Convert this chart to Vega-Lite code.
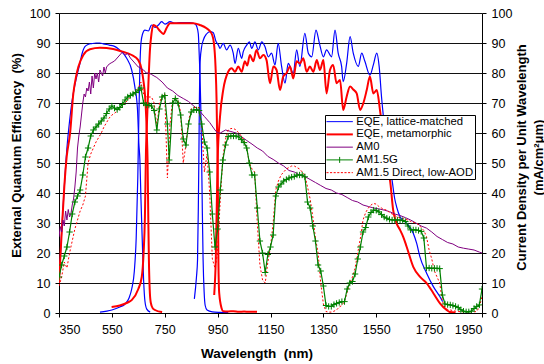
{
  "$schema": "https://vega.github.io/schema/vega-lite/v6.json",
  "width": 423,
  "height": 300,
  "autosize": "none",
  "padding": {"left": 59, "top": 13, "right": 62, "bottom": 51},
  "background": "white",
  "config": {
    "font": "Liberation Sans",
    "view": {"stroke": null},
    "axis": {
      "domainColor": "black", "tickColor": "black", "labelColor": "black", "titleColor": "black",
      "labelFont": "Liberation Sans", "titleFont": "Liberation Sans",
      "labelFontSize": 12.5, "titleFontSize": 13, "titleFontWeight": "bold",
      "tickSize": 4, "domainWidth": 1, "tickWidth": 1
    }
  },
  "datasets": {
    "eqe": [
      {"s":"L","g":"Lt","x":350,"y":10},{"s":"L","g":"Lt","x":360,"y":27},{"s":"L","g":"Lt","x":370,"y":42},{"s":"L","g":"Lt","x":380,"y":55},{"s":"L","g":"Lt","x":390,"y":64},{"s":"L","g":"Lt","x":400,"y":71},{"s":"L","g":"Lt","x":410,"y":76},{"s":"L","g":"Lt","x":420,"y":80},{"s":"L","g":"Lt","x":430,"y":83.5},{"s":"L","g":"Lt","x":436,"y":86},{"s":"L","g":"Lt","x":448,"y":88.8},{"s":"L","g":"Lt","x":460,"y":89.5},{"s":"L","g":"Lt","x":474,"y":89.8},{"s":"L","g":"Lt","x":490,"y":90},{"s":"L","g":"Lt","x":505,"y":90},{"s":"L","g":"Lt","x":518,"y":89.7},{"s":"L","g":"Lt","x":540,"y":89.3},{"s":"L","g":"Lt","x":562,"y":88.8},{"s":"L","g":"Lt","x":575,"y":88},{"s":"L","g":"Lt","x":587,"y":87.1},{"s":"L","g":"Lt","x":606,"y":84.9},{"s":"L","g":"Lt","x":625,"y":81},{"s":"L","g":"Lt","x":637,"y":75.4},{"s":"L","g":"Lt","x":647,"y":67.7},{"s":"L","g":"Lt","x":652,"y":56.6},{"s":"L","g":"Lt","x":656,"y":51},{"s":"L","g":"Lt","x":660,"y":38},{"s":"L","g":"Lt","x":665,"y":24},{"s":"L","g":"Lt","x":670,"y":11},{"s":"L","g":"Lt","x":675,"y":4},{"s":"L","g":"Lt","x":682,"y":1.3},{"s":"L","g":"Lt","x":695,"y":0.3},
      {"s":"L","g":"Lm","x":505,"y":0.3},{"s":"L","g":"Lm","x":550,"y":1},{"s":"L","g":"Lm","x":580,"y":2},{"s":"L","g":"Lm","x":600,"y":3},{"s":"L","g":"Lm","x":615,"y":5},{"s":"L","g":"Lm","x":625,"y":8},{"s":"L","g":"Lm","x":635,"y":14},{"s":"L","g":"Lm","x":642,"y":25},{"s":"L","g":"Lm","x":648,"y":45},{"s":"L","g":"Lm","x":652,"y":65},{"s":"L","g":"Lm","x":656,"y":82},{"s":"L","g":"Lm","x":660,"y":90},{"s":"L","g":"Lm","x":666,"y":93},{"s":"L","g":"Lm","x":675,"y":94.3},{"s":"L","g":"Lm","x":688,"y":94},{"s":"L","g":"Lm","x":700,"y":96},{"s":"L","g":"Lm","x":713,"y":95.2},{"s":"L","g":"Lm","x":726,"y":96},{"s":"L","g":"Lm","x":738,"y":97.1},{"s":"L","g":"Lm","x":751,"y":96.3},{"s":"L","g":"Lm","x":770,"y":97.1},{"s":"L","g":"Lm","x":790,"y":96.6},{"s":"L","g":"Lm","x":808,"y":96.8},{"s":"L","g":"Lm","x":845,"y":96.8},{"s":"L","g":"Lm","x":865,"y":96.3},{"s":"L","g":"Lm","x":871,"y":95.5},{"s":"L","g":"Lm","x":877,"y":93},{"s":"L","g":"Lm","x":880,"y":87},{"s":"L","g":"Lm","x":883,"y":80},{"s":"L","g":"Lm","x":886,"y":70},{"s":"L","g":"Lm","x":889,"y":55},{"s":"L","g":"Lm","x":892,"y":35},{"s":"L","g":"Lm","x":895,"y":18},{"s":"L","g":"Lm","x":899,"y":7},{"s":"L","g":"Lm","x":903,"y":2.5},{"s":"L","g":"Lm","x":910,"y":1},{"s":"L","g":"Lm","x":930,"y":0.4},{"s":"L","g":"Lm","x":960,"y":0.2},{"s":"L","g":"Lm","x":990,"y":0.1},
      {"s":"L","g":"Lb","x":862,"y":4.7},{"s":"L","g":"Lb","x":870,"y":12},{"s":"L","g":"Lb","x":874,"y":17.7},{"s":"L","g":"Lb","x":877,"y":35},{"s":"L","g":"Lb","x":879,"y":51},{"s":"L","g":"Lb","x":881,"y":70},{"s":"L","g":"Lb","x":884,"y":84},{"s":"L","g":"Lb","x":890,"y":89},{"s":"L","g":"Lb","x":896,"y":91},{"s":"L","g":"Lb","x":908,"y":93},{"s":"L","g":"Lb","x":921,"y":93.8},{"s":"L","g":"Lb","x":933,"y":93.5},{"s":"L","g":"Lb","x":944,"y":90.5},{"s":"L","g":"Lb","x":953,"y":89.3},{"s":"L","g":"Lb","x":959,"y":88.2},{"s":"L","g":"Lb","x":971,"y":89.9},{"s":"L","g":"Lb","x":984,"y":87.7},{"s":"L","g":"Lb","x":997,"y":89.3},{"s":"L","g":"Lb","x":1009,"y":86.6},{"s":"L","g":"Lb","x":1016,"y":83.2},{"s":"L","g":"Lb","x":1028,"y":88.2},{"s":"L","g":"Lb","x":1041,"y":84.9},{"s":"L","g":"Lb","x":1047,"y":87.1},{"s":"L","g":"Lb","x":1060,"y":89.3},{"s":"L","g":"Lb","x":1070,"y":90.4},{"s":"L","g":"Lb","x":1079,"y":88.2},{"s":"L","g":"Lb","x":1091,"y":90.4},{"s":"L","g":"Lb","x":1104,"y":87.7},{"s":"L","g":"Lb","x":1117,"y":90.4},{"s":"L","g":"Lb","x":1129,"y":88.8},{"s":"L","g":"Lb","x":1142,"y":85.4},{"s":"L","g":"Lb","x":1154,"y":86.6},{"s":"L","g":"Lb","x":1167,"y":82.7},{"s":"L","g":"Lb","x":1179,"y":89.9},{"s":"L","g":"Lb","x":1192,"y":82.2},{"s":"L","g":"Lb","x":1205,"y":76.6},{"s":"L","g":"Lb","x":1217,"y":83.2},{"s":"L","g":"Lb","x":1236,"y":80},{"s":"L","g":"Lb","x":1249,"y":87.7},{"s":"L","g":"Lb","x":1261,"y":82.2},{"s":"L","g":"Lb","x":1280,"y":93.2},{"s":"L","g":"Lb","x":1293,"y":86.6},{"s":"L","g":"Lb","x":1306,"y":85.4},{"s":"L","g":"Lb","x":1322,"y":94.3},{"s":"L","g":"Lb","x":1335,"y":89.9},{"s":"L","g":"Lb","x":1350,"y":85.4},{"s":"L","g":"Lb","x":1362,"y":87.7},{"s":"L","g":"Lb","x":1381,"y":85.4},{"s":"L","g":"Lb","x":1394,"y":94.3},{"s":"L","g":"Lb","x":1406,"y":86.6},{"s":"L","g":"Lb","x":1419,"y":82.2},{"s":"L","g":"Lb","x":1425,"y":77.1},{"s":"L","g":"Lb","x":1438,"y":83.2},{"s":"L","g":"Lb","x":1451,"y":92.1},{"s":"L","g":"Lb","x":1463,"y":86.6},{"s":"L","g":"Lb","x":1482,"y":82.2},{"s":"L","g":"Lb","x":1495,"y":86.6},{"s":"L","g":"Lb","x":1507,"y":83.9},{"s":"L","g":"Lb","x":1526,"y":79.3},{"s":"L","g":"Lb","x":1539,"y":82.7},{"s":"L","g":"Lb","x":1552,"y":86.6},{"s":"L","g":"Lb","x":1561,"y":82.2},{"s":"L","g":"Lb","x":1570,"y":72},{"s":"L","g":"Lb","x":1580,"y":63},{"s":"L","g":"Lb","x":1590,"y":55},{"s":"L","g":"Lb","x":1600,"y":49},{"s":"L","g":"Lb","x":1608,"y":45.4},{"s":"L","g":"Lb","x":1620,"y":38},{"s":"L","g":"Lb","x":1627,"y":35.4},{"s":"L","g":"Lb","x":1640,"y":32.1},{"s":"L","g":"Lb","x":1665,"y":29.9},{"s":"L","g":"Lb","x":1690,"y":26.6},{"s":"L","g":"Lb","x":1703,"y":23.2},{"s":"L","g":"Lb","x":1715,"y":18.8},{"s":"L","g":"Lb","x":1741,"y":13.2},{"s":"L","g":"Lb","x":1766,"y":8.8},{"s":"L","g":"Lb","x":1791,"y":5.4},{"s":"L","g":"Lb","x":1801,"y":3.8},
      {"s":"M","g":"Mt","x":350,"y":10},{"s":"M","g":"Mt","x":360,"y":26.6},{"s":"M","g":"Mt","x":370,"y":42},{"s":"M","g":"Mt","x":379,"y":52},{"s":"M","g":"Mt","x":392,"y":60},{"s":"M","g":"Mt","x":404,"y":73},{"s":"M","g":"Mt","x":415,"y":79},{"s":"M","g":"Mt","x":423,"y":82},{"s":"M","g":"Mt","x":442,"y":86},{"s":"M","g":"Mt","x":467,"y":87.9},{"s":"M","g":"Mt","x":505,"y":88.4},{"s":"M","g":"Mt","x":555,"y":88},{"s":"M","g":"Mt","x":587,"y":87.2},{"s":"M","g":"Mt","x":625,"y":86},{"s":"M","g":"Mt","x":650,"y":84.3},{"s":"M","g":"Mt","x":663,"y":81},{"s":"M","g":"Mt","x":670,"y":77},{"s":"M","g":"Mt","x":675,"y":73},{"s":"M","g":"Mt","x":680,"y":65},{"s":"M","g":"Mt","x":682,"y":60},{"s":"M","g":"Mt","x":685,"y":51},{"s":"M","g":"Mt","x":688,"y":30},{"s":"M","g":"Mt","x":690,"y":18},{"s":"M","g":"Mt","x":693,"y":8},{"s":"M","g":"Mt","x":697,"y":3.5},{"s":"M","g":"Mt","x":705,"y":1.5},{"s":"M","g":"Mt","x":713,"y":1},{"s":"M","g":"Mt","x":740,"y":0.3},
      {"s":"M","g":"Mm","x":549,"y":2},{"s":"M","g":"Mm","x":580,"y":2.5},{"s":"M","g":"Mm","x":610,"y":3.5},{"s":"M","g":"Mm","x":625,"y":4.3},{"s":"M","g":"Mm","x":650,"y":8},{"s":"M","g":"Mm","x":663,"y":12},{"s":"M","g":"Mm","x":670,"y":20},{"s":"M","g":"Mm","x":675,"y":32},{"s":"M","g":"Mm","x":679,"y":54},{"s":"M","g":"Mm","x":683,"y":64},{"s":"M","g":"Mm","x":688,"y":76},{"s":"M","g":"Mm","x":694,"y":87.7},{"s":"M","g":"Mm","x":700,"y":93.2},{"s":"M","g":"Mm","x":707,"y":96},{"s":"M","g":"Mm","x":719,"y":95.4},{"s":"M","g":"Mm","x":732,"y":94},{"s":"M","g":"Mm","x":745,"y":93},{"s":"M","g":"Mm","x":757,"y":95},{"s":"M","g":"Mm","x":770,"y":96.6},{"s":"M","g":"Mm","x":795,"y":96.6},{"s":"M","g":"Mm","x":820,"y":96.6},{"s":"M","g":"Mm","x":858,"y":96.6},{"s":"M","g":"Mm","x":883,"y":96},{"s":"M","g":"Mm","x":908,"y":94.9},{"s":"M","g":"Mm","x":927,"y":93.2},{"s":"M","g":"Mm","x":936,"y":89.9},{"s":"M","g":"Mm","x":942,"y":82.2},{"s":"M","g":"Mm","x":946,"y":71},{"s":"M","g":"Mm","x":948,"y":60},{"s":"M","g":"Mm","x":950,"y":51},{"s":"M","g":"Mm","x":951.5,"y":35},{"s":"M","g":"Mm","x":953,"y":17},{"s":"M","g":"Mm","x":956,"y":6.6},{"s":"M","g":"Mm","x":965,"y":1.6},{"s":"M","g":"Mm","x":971,"y":0.6},{"s":"M","g":"Mm","x":990,"y":0.5},{"s":"M","g":"Mm","x":1010,"y":0.6},{"s":"M","g":"Mm","x":1030,"y":0.4},{"s":"M","g":"Mm","x":1050,"y":0.5},{"s":"M","g":"Mm","x":1070,"y":0.4},{"s":"M","g":"Mm","x":1099,"y":0.4},
      {"s":"M","g":"Mb","x":937,"y":6},{"s":"M","g":"Mb","x":943,"y":17.7},{"s":"M","g":"Mb","x":950,"y":51},{"s":"M","g":"Mb","x":959,"y":65.4},{"s":"M","g":"Mb","x":971,"y":74.3},{"s":"M","g":"Mb","x":990,"y":80.4},{"s":"M","g":"Mb","x":1003,"y":81.6},{"s":"M","g":"Mb","x":1016,"y":80.4},{"s":"M","g":"Mb","x":1028,"y":82.2},{"s":"M","g":"Mb","x":1041,"y":80.4},{"s":"M","g":"Mb","x":1053,"y":83.9},{"s":"M","g":"Mb","x":1062,"y":82.5},{"s":"M","g":"Mb","x":1072,"y":86},{"s":"M","g":"Mb","x":1085,"y":83.9},{"s":"M","g":"Mb","x":1097,"y":87.7},{"s":"M","g":"Mb","x":1110,"y":84.9},{"s":"M","g":"Mb","x":1123,"y":86},{"s":"M","g":"Mb","x":1135,"y":84.3},{"s":"M","g":"Mb","x":1148,"y":76.6},{"s":"M","g":"Mb","x":1161,"y":82.2},{"s":"M","g":"Mb","x":1173,"y":81},{"s":"M","g":"Mb","x":1186,"y":74.3},{"s":"M","g":"Mb","x":1198,"y":78.8},{"s":"M","g":"Mb","x":1211,"y":80},{"s":"M","g":"Mb","x":1224,"y":82.2},{"s":"M","g":"Mb","x":1236,"y":78.2},{"s":"M","g":"Mb","x":1249,"y":83.9},{"s":"M","g":"Mb","x":1261,"y":83.2},{"s":"M","g":"Mb","x":1274,"y":84.9},{"s":"M","g":"Mb","x":1287,"y":80.4},{"s":"M","g":"Mb","x":1299,"y":82.2},{"s":"M","g":"Mb","x":1312,"y":80.4},{"s":"M","g":"Mb","x":1325,"y":84.3},{"s":"M","g":"Mb","x":1337,"y":81},{"s":"M","g":"Mb","x":1350,"y":84.3},{"s":"M","g":"Mb","x":1362,"y":73.2},{"s":"M","g":"Mb","x":1375,"y":81},{"s":"M","g":"Mb","x":1387,"y":82.7},{"s":"M","g":"Mb","x":1400,"y":76.6},{"s":"M","g":"Mb","x":1413,"y":77.7},{"s":"M","g":"Mb","x":1425,"y":67.7},{"s":"M","g":"Mb","x":1438,"y":72.1},{"s":"M","g":"Mb","x":1451,"y":75.5},{"s":"M","g":"Mb","x":1463,"y":74.5},{"s":"M","g":"Mb","x":1476,"y":73.2},{"s":"M","g":"Mb","x":1489,"y":67.7},{"s":"M","g":"Mb","x":1501,"y":69.9},{"s":"M","g":"Mb","x":1514,"y":74.3},{"s":"M","g":"Mb","x":1526,"y":78.8},{"s":"M","g":"Mb","x":1539,"y":73.2},{"s":"M","g":"Mb","x":1552,"y":74.3},{"s":"M","g":"Mb","x":1564,"y":67.7},{"s":"M","g":"Mb","x":1575,"y":60},{"s":"M","g":"Mb","x":1585,"y":52},{"s":"M","g":"Mb","x":1595,"y":47},{"s":"M","g":"Mb","x":1602,"y":44.3},{"s":"M","g":"Mb","x":1614,"y":34.3},{"s":"M","g":"Mb","x":1627,"y":29.9},{"s":"M","g":"Mb","x":1640,"y":27.7},{"s":"M","g":"Mb","x":1652,"y":25.4},{"s":"M","g":"Mb","x":1665,"y":22.1},{"s":"M","g":"Mb","x":1690,"y":15.4},{"s":"M","g":"Mb","x":1715,"y":12.1},{"s":"M","g":"Mb","x":1741,"y":9.9},{"s":"M","g":"Mb","x":1766,"y":6.6},{"s":"M","g":"Mb","x":1791,"y":3.2},{"s":"M","g":"Mb","x":1816,"y":1},{"s":"M","g":"Mb","x":1829,"y":0.3},{"s":"M","g":"Mb","x":1850,"y":0.2}
    ],
    "am0": [
      {"x":350,"y":25.4},{"x":355,"y":28.8},{"x":360,"y":27},{"x":365,"y":31},{"x":370,"y":29},{"x":375,"y":34},{"x":380,"y":31},{"x":385,"y":34.5},{"x":390,"y":32},{"x":395,"y":33},{"x":400,"y":36},{"x":405,"y":38},{"x":410,"y":42},{"x":415,"y":47},{"x":420,"y":55},{"x":425,"y":59},{"x":430,"y":62},{"x":440,"y":70},{"x":445,"y":73},{"x":450,"y":72},{"x":455,"y":75},{"x":460,"y":74},{"x":465,"y":77},{"x":470,"y":73},{"x":475,"y":79},{"x":480,"y":75},{"x":485,"y":80},{"x":490,"y":78},{"x":495,"y":80},{"x":500,"y":77},{"x":505,"y":81},{"x":510,"y":80},{"x":515,"y":79},{"x":520,"y":82},{"x":525,"y":80},{"x":530,"y":82},{"x":540,"y":83},{"x":550,"y":83.5},{"x":560,"y":84},{"x":570,"y":85},{"x":580,"y":86},{"x":590,"y":87},{"x":600,"y":86},{"x":610,"y":86.5},{"x":620,"y":85},{"x":630,"y":84},{"x":640,"y":83},{"x":650,"y":82},{"x":660,"y":81.5},{"x":670,"y":81},{"x":680,"y":80},{"x":690,"y":80},{"x":700,"y":79.5},{"x":720,"y":78.5},{"x":740,"y":77},{"x":760,"y":75},{"x":780,"y":74},{"x":800,"y":72.5},{"x":820,"y":71.5},{"x":840,"y":70.5},{"x":860,"y":69},{"x":880,"y":67.5},{"x":900,"y":65.5},{"x":920,"y":63.5},{"x":940,"y":61},{"x":950,"y":60},{"x":960,"y":60},{"x":980,"y":61},{"x":1000,"y":60.5},{"x":1020,"y":60},{"x":1040,"y":58.8},{"x":1060,"y":57.5},{"x":1080,"y":56.3},{"x":1100,"y":55},{"x":1120,"y":54},{"x":1140,"y":52.2},{"x":1160,"y":51.2},{"x":1180,"y":50},{"x":1200,"y":49},{"x":1220,"y":47.5},{"x":1240,"y":47},{"x":1260,"y":46},{"x":1280,"y":45.5},{"x":1300,"y":44.5},{"x":1320,"y":43.5},{"x":1340,"y":42.5},{"x":1360,"y":41.5},{"x":1380,"y":41},{"x":1400,"y":40},{"x":1420,"y":39.5},{"x":1440,"y":38.5},{"x":1460,"y":37.5},{"x":1480,"y":37},{"x":1500,"y":36},{"x":1520,"y":35.5},{"x":1540,"y":35},{"x":1560,"y":34.7},{"x":1580,"y":34.3},{"x":1600,"y":33.8},{"x":1620,"y":33},{"x":1640,"y":32.5},{"x":1660,"y":31.8},{"x":1680,"y":31},{"x":1700,"y":30},{"x":1720,"y":29},{"x":1740,"y":28.3},{"x":1760,"y":27},{"x":1780,"y":25.5},{"x":1800,"y":24.5},{"x":1820,"y":23.5},{"x":1840,"y":23},{"x":1860,"y":22},{"x":1880,"y":21.6},{"x":1900,"y":21.3},{"x":1920,"y":21},{"x":1940,"y":20.3},{"x":1950,"y":20}
    ],
    "g": [
      {"x":350,"y":12},{"x":360,"y":16},{"x":370,"y":19},{"x":380,"y":22},{"x":390,"y":27},{"x":400,"y":33},{"x":410,"y":37},{"x":420,"y":39},{"x":430,"y":41},{"x":440,"y":46},{"x":450,"y":52},{"x":460,"y":55},{"x":470,"y":59},{"x":480,"y":61},{"x":490,"y":62},{"x":500,"y":63},{"x":510,"y":64},{"x":520,"y":65},{"x":530,"y":66.5},{"x":540,"y":68},{"x":550,"y":69},{"x":560,"y":68.3},{"x":570,"y":67.8},{"x":580,"y":68.5},{"x":590,"y":69.5},{"x":600,"y":71},{"x":610,"y":72},{"x":620,"y":72.5},{"x":630,"y":73},{"x":640,"y":73.5},{"x":650,"y":74.3},{"x":660,"y":75},{"x":670,"y":70},{"x":680,"y":69.3},{"x":690,"y":69.3},{"x":700,"y":69},{"x":710,"y":67.5},{"x":720,"y":61},{"x":730,"y":68},{"x":740,"y":72},{"x":750,"y":72.5},{"x":760,"y":63},{"x":767,"y":51},{"x":780,"y":70},{"x":790,"y":71.5},{"x":800,"y":70},{"x":810,"y":66},{"x":820,"y":58},{"x":830,"y":56},{"x":840,"y":63},{"x":850,"y":67},{"x":860,"y":67.7},{"x":870,"y":67.7},{"x":880,"y":67.5},{"x":890,"y":63},{"x":900,"y":57},{"x":910,"y":55},{"x":920,"y":47},{"x":930,"y":33},{"x":940,"y":22},{"x":950,"y":28},{"x":960,"y":41},{"x":970,"y":51},{"x":980,"y":56},{"x":990,"y":58.8},{"x":1000,"y":59},{"x":1010,"y":59},{"x":1020,"y":59},{"x":1030,"y":58.7},{"x":1040,"y":57.8},{"x":1050,"y":56.8},{"x":1060,"y":55},{"x":1070,"y":50},{"x":1080,"y":46},{"x":1090,"y":46},{"x":1100,"y":35},{"x":1110,"y":24},{"x":1120,"y":20},{"x":1130,"y":13.5},{"x":1140,"y":19.5},{"x":1150,"y":22},{"x":1160,"y":26},{"x":1170,"y":39},{"x":1180,"y":42},{"x":1190,"y":43},{"x":1200,"y":44},{"x":1210,"y":44.5},{"x":1220,"y":45},{"x":1230,"y":45.3},{"x":1240,"y":45.5},{"x":1250,"y":46},{"x":1260,"y":46},{"x":1270,"y":46},{"x":1280,"y":45.4},{"x":1290,"y":37},{"x":1300,"y":35},{"x":1310,"y":29},{"x":1320,"y":24},{"x":1330,"y":16},{"x":1340,"y":14},{"x":1350,"y":9},{"x":1360,"y":2.5},{"x":1370,"y":2.2},{"x":1380,"y":2.2},{"x":1390,"y":2.8},{"x":1400,"y":3.2},{"x":1410,"y":3.5},{"x":1420,"y":3.8},{"x":1430,"y":3.8},{"x":1440,"y":8},{"x":1450,"y":10},{"x":1460,"y":10.5},{"x":1470,"y":13},{"x":1480,"y":18},{"x":1490,"y":22},{"x":1500,"y":27},{"x":1510,"y":28.5},{"x":1520,"y":32},{"x":1530,"y":33.5},{"x":1540,"y":34.3},{"x":1550,"y":34.2},{"x":1560,"y":33.7},{"x":1570,"y":32.8},{"x":1580,"y":32},{"x":1590,"y":31.6},{"x":1600,"y":31.2},{"x":1610,"y":31},{"x":1620,"y":31},{"x":1630,"y":31},{"x":1640,"y":31},{"x":1650,"y":30.8},{"x":1660,"y":30.5},{"x":1670,"y":29},{"x":1680,"y":27.7},{"x":1690,"y":27.7},{"x":1700,"y":27.7},{"x":1710,"y":27.5},{"x":1720,"y":27.2},{"x":1730,"y":25},{"x":1740,"y":15},{"x":1750,"y":15},{"x":1760,"y":14.9},{"x":1770,"y":14.9},{"x":1780,"y":14.9},{"x":1790,"y":14.8},{"x":1800,"y":6},{"x":1810,"y":3},{"x":1820,"y":2.8},{"x":1830,"y":2.7},{"x":1840,"y":2.5},{"x":1850,"y":2.2},{"x":1860,"y":1.8},{"x":1870,"y":1.1},{"x":1880,"y":0.6},{"x":1890,"y":0.4},{"x":1900,"y":0.4},{"x":1910,"y":0.6},{"x":1920,"y":1.5},{"x":1930,"y":2.2},{"x":1940,"y":2.7},{"x":1950,"y":8}
    ],
    "d": [
      {"x":350,"y":9},{"x":360,"y":12},{"x":370,"y":17},{"x":380,"y":15},{"x":390,"y":20},{"x":400,"y":24},{"x":410,"y":28},{"x":420,"y":31},{"x":430,"y":34},{"x":440,"y":36},{"x":450,"y":39},{"x":460,"y":50},{"x":470,"y":53},{"x":480,"y":55},{"x":490,"y":57},{"x":500,"y":58.5},{"x":510,"y":60},{"x":520,"y":62},{"x":530,"y":63.5},{"x":540,"y":65},{"x":550,"y":66},{"x":560,"y":66.5},{"x":570,"y":67.5},{"x":580,"y":68.5},{"x":590,"y":69.5},{"x":600,"y":70},{"x":610,"y":71},{"x":620,"y":72},{"x":630,"y":73},{"x":640,"y":74},{"x":650,"y":75},{"x":660,"y":77},{"x":670,"y":73},{"x":680,"y":72},{"x":690,"y":72},{"x":700,"y":72},{"x":710,"y":70},{"x":720,"y":62},{"x":730,"y":70},{"x":740,"y":72.5},{"x":750,"y":73},{"x":760,"y":45},{"x":770,"y":63},{"x":780,"y":71},{"x":790,"y":72},{"x":800,"y":71},{"x":810,"y":67},{"x":820,"y":50},{"x":830,"y":56},{"x":840,"y":64},{"x":850,"y":68},{"x":860,"y":68.5},{"x":870,"y":68.5},{"x":880,"y":68.5},{"x":890,"y":62},{"x":900,"y":47},{"x":910,"y":53},{"x":920,"y":40},{"x":930,"y":18},{"x":940,"y":15},{"x":950,"y":20},{"x":960,"y":38},{"x":970,"y":52},{"x":980,"y":58},{"x":990,"y":61},{"x":1000,"y":61.5},{"x":1010,"y":61.5},{"x":1020,"y":61},{"x":1030,"y":60},{"x":1040,"y":59},{"x":1050,"y":57.5},{"x":1060,"y":55},{"x":1070,"y":50},{"x":1080,"y":48},{"x":1090,"y":47},{"x":1100,"y":30},{"x":1110,"y":16},{"x":1120,"y":11},{"x":1130,"y":10},{"x":1140,"y":17},{"x":1150,"y":22},{"x":1160,"y":30},{"x":1170,"y":41},{"x":1180,"y":44},{"x":1190,"y":46},{"x":1200,"y":47},{"x":1210,"y":48},{"x":1220,"y":48.5},{"x":1230,"y":49},{"x":1240,"y":49},{"x":1250,"y":48.5},{"x":1260,"y":48},{"x":1270,"y":47},{"x":1280,"y":46},{"x":1290,"y":42},{"x":1300,"y":38},{"x":1310,"y":32},{"x":1320,"y":25},{"x":1330,"y":20},{"x":1340,"y":10},{"x":1350,"y":3},{"x":1360,"y":0.5},{"x":1370,"y":0.3},{"x":1380,"y":0.3},{"x":1390,"y":0.6},{"x":1400,"y":1},{"x":1410,"y":2},{"x":1420,"y":2.5},{"x":1430,"y":4},{"x":1440,"y":7},{"x":1450,"y":10},{"x":1460,"y":12},{"x":1470,"y":15},{"x":1480,"y":20},{"x":1490,"y":25},{"x":1500,"y":31},{"x":1510,"y":33.5},{"x":1520,"y":35},{"x":1530,"y":36},{"x":1540,"y":36.5},{"x":1550,"y":36.3},{"x":1560,"y":35.5},{"x":1570,"y":35},{"x":1580,"y":34.5},{"x":1590,"y":34.3},{"x":1600,"y":33.5},{"x":1610,"y":33},{"x":1620,"y":32.5},{"x":1630,"y":32},{"x":1640,"y":31.8},{"x":1650,"y":31.5},{"x":1660,"y":31.2},{"x":1670,"y":31},{"x":1680,"y":30.5},{"x":1690,"y":30.2},{"x":1700,"y":30},{"x":1710,"y":29.5},{"x":1720,"y":28.5},{"x":1730,"y":27.5},{"x":1740,"y":25.5},{"x":1750,"y":21},{"x":1760,"y":18},{"x":1770,"y":14},{"x":1780,"y":12},{"x":1790,"y":10},{"x":1800,"y":4},{"x":1810,"y":1.8},{"x":1820,"y":1.2},{"x":1830,"y":1},{"x":1840,"y":0.8},{"x":1850,"y":0.6},{"x":1860,"y":0.5},{"x":1870,"y":0.4},{"x":1880,"y":0.4},{"x":1890,"y":0.4},{"x":1900,"y":0.4},{"x":1910,"y":0.4},{"x":1920,"y":0.4},{"x":1930,"y":0.5},{"x":1940,"y":2},{"x":1950,"y":5.5}
    ]
  },
  "layer": [
    {
      "data": {"name": "eqe"},
      "mark": {"type": "line", "clip": true, "interpolate": "monotone"},
      "encoding": {
        "x": {"field": "x", "type": "quantitative", "scale": {"domain": [350, 1950], "nice": false, "zero": false},
              "axis": {"values": [350,550,750,950,1150,1350,1550,1750,1950], "format": "d", "grid": false, "title": "Wavelength\u00a0 (nm)", "labelPadding": 6, "titleX": 197.5, "titleAlign": "center", "titleY": 33, "titleBaseline": "top", "titleFontSize": 13.5}},
        "y": {"field": "y", "type": "quantitative", "scale": {"domain": [0, 100], "nice": false},
              "axis": {"orient": "left", "values": [0,10,20,30,40,50,60,70,80,90,100], "grid": true, "gridColor": "#111", "gridWidth": 1, "labelPadding": 5,
                       "title": "External Quantum Efficiency\u00a0 (%)", "titleAngle": 270, "titleX": -36, "titleY": 142, "titleAlign": "center", "titleBaseline": "bottom"}},
        "detail": {"field": "g"},
        "strokeWidth": {"field": "s", "type": "nominal", "scale": {"domain": ["L", "M"], "range": [1.2, 2]}, "legend": null},
        "color": {"field": "s", "type": "nominal",
                  "scale": {"domain": ["L", "M", "AM0", "G", "D"], "range": ["#0000ff", "#ff0000", "#800080", "#008000", "#ff0000"]},
                  "legend": {
                    "orient": "none", "legendX": 266, "legendY": 102, "title": null,
                    "labelExpr": "datum.value === 'L' ? 'EQE, lattice-matched' : datum.value === 'M' ? 'EQE, metamorphic' : datum.value === 'AM0' ? 'AM0' : datum.value === 'G' ? 'AM1.5G' : 'AM1.5 Direct, low-AOD'",
                    "fillColor": "white", "strokeColor": "black", "padding": 1,
                    "symbolType": "stroke", "symbolSize": 144, "symbolStrokeWidth": 1,
                    "symbolOffset": 8, "labelOffset": 11, "rowPadding": 0.75,
                    "labelFont": "Liberation Sans", "labelFontSize": 11.3, "labelColor": "black",
                    "encode": {"symbols": {"update": {
                      "shape": {"signal": "datum.value === 'G' ? 'M-2.2,0H2.2M0,-0.5V0.5' : datum.value === 'D' ? 'M-2.2,0H-1.85M-1.6,0H-1.25M-1,0H-0.65M-0.4,0H-0.05M0.2,0H0.55M0.8,0H1.15M1.4,0H1.75M2,0H2.2' : 'M-2.2,0H2.2'"},
                      "strokeWidth": {"signal": "datum.value === 'M' ? 2 : 1"},
                      "fill": {"value": "transparent"}
                    }}}
                  }}
      }
    },
    {
      "layer": [
        {
          "data": {"name": "am0"},
          "mark": {"type": "line", "color": "#800080", "strokeWidth": 1, "clip": true},
          "encoding": {
            "x": {"field": "x", "type": "quantitative"},
            "y": {"field": "y", "type": "quantitative", "scale": {"domain": [0, 100], "nice": false},
                  "axis": {"orient": "right", "values": [0,10,20,30,40,50,60,70,80,90,100], "grid": false, "labelPadding": 5,
                           "title": ["Current Density per Unit Wavelength", "(mA/cm²μm)"], "titleAngle": 270, "titleX": 33, "titleY": 144, "titleAlign": "center", "titleBaseline": "top", "titleLineHeight": 17}}
          }
        },
        {
          "data": {"name": "d"},
          "mark": {"type": "line", "color": "#ff0000", "strokeWidth": 1, "strokeDash": [2, 2], "clip": true},
          "encoding": {
            "x": {"field": "x", "type": "quantitative"},
            "y": {"field": "y", "type": "quantitative", "scale": {"domain": [0, 100], "nice": false},
                  "axis": {"orient": "right", "values": [0,10,20,30,40,50,60,70,80,90,100], "grid": false, "labelPadding": 5,
                           "title": ["Current Density per Unit Wavelength", "(mA/cm²μm)"], "titleAngle": 270, "titleX": 33, "titleY": 144, "titleAlign": "center", "titleBaseline": "top", "titleLineHeight": 17}}
          }
        },
        {
          "data": {"name": "g"},
          "mark": {"type": "line", "color": "#008000", "strokeWidth": 1.2, "clip": true},
          "encoding": {
            "x": {"field": "x", "type": "quantitative"},
            "y": {"field": "y", "type": "quantitative", "scale": {"domain": [0, 100], "nice": false},
                  "axis": {"orient": "right", "values": [0,10,20,30,40,50,60,70,80,90,100], "grid": false, "labelPadding": 5,
                           "title": ["Current Density per Unit Wavelength", "(mA/cm²μm)"], "titleAngle": 270, "titleX": 33, "titleY": 144, "titleAlign": "center", "titleBaseline": "top", "titleLineHeight": 17}}
          }
        },
        {
          "data": {"name": "g"},
          "mark": {"type": "point", "shape": "M-1,0H1M0,-1V1", "filled": false, "color": "#008000", "strokeWidth": 1, "size": 40, "opacity": 1, "clip": true},
          "encoding": {
            "x": {"field": "x", "type": "quantitative"},
            "y": {"field": "y", "type": "quantitative", "scale": {"domain": [0, 100], "nice": false},
                  "axis": {"orient": "right", "values": [0,10,20,30,40,50,60,70,80,90,100], "grid": false, "labelPadding": 5,
                           "title": ["Current Density per Unit Wavelength", "(mA/cm²μm)"], "titleAngle": 270, "titleX": 33, "titleY": 144, "titleAlign": "center", "titleBaseline": "top", "titleLineHeight": 17}}
          }
        }
      ]
    }
  ],
  "resolve": {"scale": {"y": "independent"}}
}
